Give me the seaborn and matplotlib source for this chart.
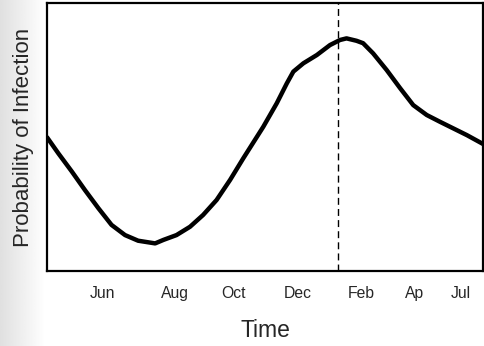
import numpy as np
import pandas as pd
import matplotlib
matplotlib.use("Agg")
import matplotlib.pyplot as plt
import seaborn as sns

# Data (x on a 0-100 time scale, y on a 0-100 probability scale)
time_pos = [0, 2.6, 5.7, 8.7, 11.8, 14.8, 17.9, 20.9, 24.8, 26.7, 29.7, 32.8,
            35.8, 38.9, 42.0, 45.0, 49.6, 52.7, 55.0, 56.5, 58.8, 61.9,
            64.9, 67.2, 68.7, 71.0, 72.5, 74.8, 77.9, 81.0, 84.0, 87.1, 90.1,
            93.2, 96.3, 100]
prob = [49.9, 43.9, 37.1, 30.2, 23.4, 17.2, 13.4, 11.3, 10.3, 11.6, 13.4, 16.5,
        20.9, 26.5, 34.0, 42.0, 53.8, 62.6, 70.0, 74.4, 77.5, 80.6,
        84.3, 86.2, 86.8, 85.9, 85.0, 81.2, 75.0, 68.2, 61.9, 58.2, 55.7,
        53.2, 50.7, 47.4]
tick_labels = ["Jun", "Aug", "Oct", "Dec", "Feb", "Ap", "Jul"]
tick_pos = [12.8, 29.4, 42.7, 57.6, 72.0, 84.4, 95.0]
marker_time = 66.7

sns.set_theme(style="white")
plt.rcParams['font.family'] = ['Liberation Sans', 'DejaVu Sans']

fig = plt.figure(figsize=(4.84, 3.46), dpi=100)
fig.patch.set_facecolor("white")

# left gray gradient background
bg = fig.add_axes([0, 0, 46 / 484, 1], zorder=0)
grad = np.linspace(0.85, 1.0, 64) ** 0.8
bg.imshow(grad[np.newaxis, :], aspect="auto", cmap="gray", vmin=0, vmax=1,
          extent=[0, 1, 0, 1])
bg.set_axis_off()

ax = fig.add_axes([47 / 484, 75 / 346, 436 / 484, 268 / 346], zorder=1)
ax.set_facecolor("white")

df = pd.DataFrame({"t": time_pos, "p": prob})
sns.lineplot(data=df, x="t", y="p", ax=ax, color="black", lw=3.2,
             solid_joinstyle="round", solid_capstyle="round")
ax.axvline(marker_time, color="black", lw=1.0, ls=(0, (5, 3)))

ax.set_xlim(0, 100)
ax.set_ylim(0, 100)
ax.set_xticks(tick_pos)
ax.set_xticklabels(tick_labels, fontsize=11.3)
ax.set_yticks([])
ax.tick_params(axis="x", length=0, pad=11)
ax.set_xlabel("Time", fontsize=16.5, labelpad=13)
ax.set_ylabel("Probability of Infection", fontsize=16, labelpad=9)
for s in ax.spines.values():
    s.set_visible(True)
    s.set_color("black")
    s.set_linewidth(1.6)

fig.savefig("out.png", dpi=100)
